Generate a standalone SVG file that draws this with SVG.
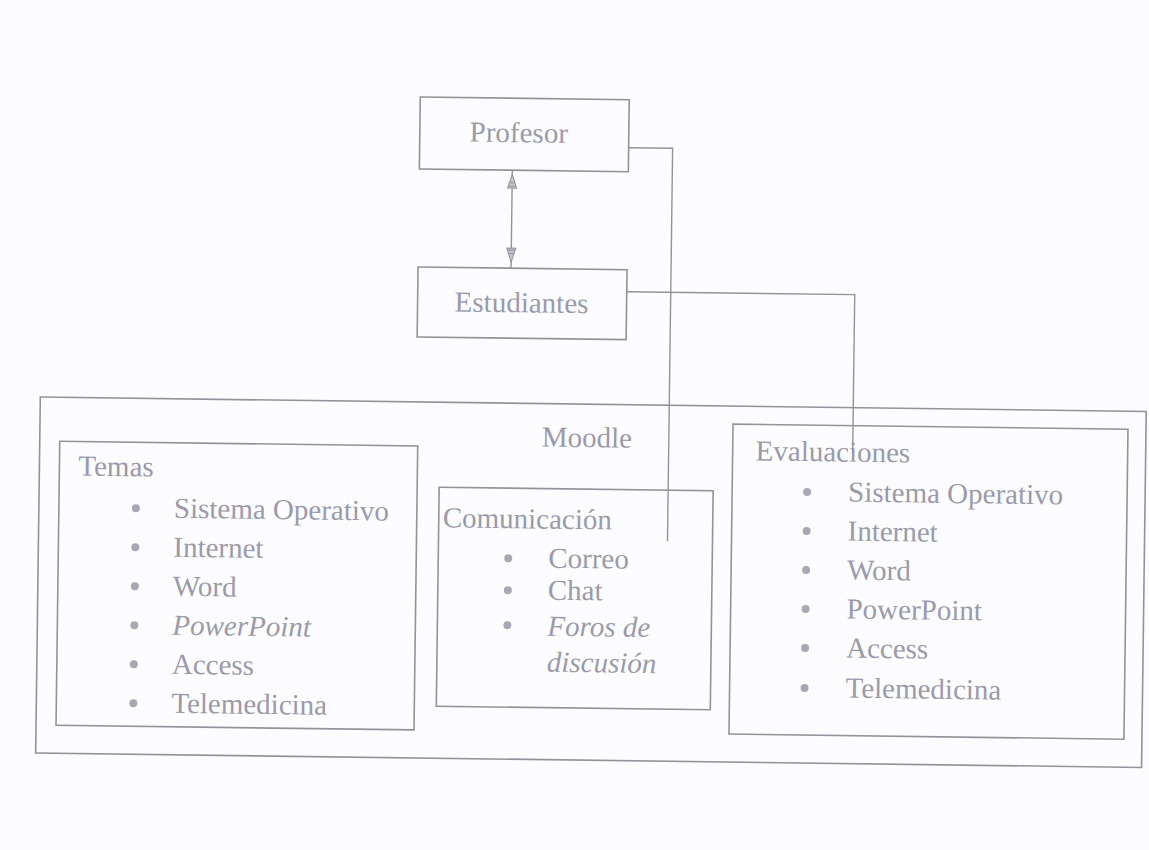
<svg xmlns="http://www.w3.org/2000/svg" width="1149" height="850" viewBox="0 0 1149 850">
<style>
  .box{fill:none;stroke:#92929c;stroke-width:1.6}
  .ln{fill:none;stroke:#92929c;stroke-width:1.4}
  .t{font-family:"Liberation Serif","Times New Roman",serif;font-size:29px;fill:#9a9aaa}
  .i{font-style:italic}
  .b{fill:#a8a8b4}
  .ah{fill:#c4c4ce;stroke:#92929c;stroke-width:1}
</style>
<rect width="1149" height="850" fill="#fcfcfe"/>
<g transform="rotate(0.75 574 425)">
  <g id="moodle">
    <rect class="box" x="40" y="404" width="1106" height="356"/>
    <text class="t" x="542" y="447">Moodle</text>
  </g>
  <g id="profesor">
    <rect class="box" x="416" y="99" width="209" height="72"/>
    <text class="t" x="515" y="143" text-anchor="middle">Profesor</text>
  </g>
  <g id="estudiantes">
    <rect class="box" x="416" y="269" width="209" height="70"/>
    <text class="t" x="520" y="313" text-anchor="middle">Estudiantes</text>
  </g>
  <g id="temas">
    <rect class="box" x="60" y="448" width="358" height="284"/>
    <text class="t" x="79" y="482">Temas</text>
    <circle class="b" cx="137" cy="514" r="4"/><text class="t" x="175" y="523">Sistema Operativo</text>
    <circle class="b" cx="137" cy="553" r="4"/><text class="t" x="175" y="562">Internet</text>
    <circle class="b" cx="137" cy="592" r="4"/><text class="t" x="175" y="601">Word</text>
    <circle class="b" cx="137" cy="631" r="4"/><text class="t i" x="175" y="640">PowerPoint</text>
    <circle class="b" cx="137" cy="670" r="4"/><text class="t" x="175" y="679">Access</text>
    <circle class="b" cx="137" cy="709" r="4"/><text class="t" x="175" y="718">Telemedicina</text>
  </g>
  <g id="comunicacion">
    <rect class="box" x="440" y="489" width="274" height="219"/>
    <text class="t" x="444" y="529">Comunicación</text>
    <circle class="b" cx="510" cy="559" r="4"/><text class="t" x="550" y="568">Correo</text>
    <circle class="b" cx="510" cy="591" r="4"/><text class="t" x="550" y="600">Chat</text>
    <circle class="b" cx="510" cy="626" r="4"/><text class="t i" x="550" y="636">Foros de</text>
    <text class="t i" x="550" y="672">discusión</text>
  </g>
  <g id="evaluaciones">
    <rect class="box" x="733" y="422" width="395" height="310"/>
    <text class="t" x="756" y="458">Evaluaciones</text>
    <circle class="b" cx="808" cy="489" r="4"/><text class="t" x="849" y="498">Sistema Operativo</text>
    <circle class="b" cx="808" cy="528" r="4"/><text class="t" x="849" y="537">Internet</text>
    <circle class="b" cx="808" cy="567" r="4"/><text class="t" x="849" y="576">Word</text>
    <circle class="b" cx="808" cy="606" r="4"/><text class="t" x="849" y="615">PowerPoint</text>
    <circle class="b" cx="808" cy="645" r="4"/><text class="t" x="849" y="654">Access</text>
    <circle class="b" cx="808" cy="685" r="4"/><text class="t" x="849" y="694">Telemedicina</text>
  </g>
  <g id="connectors">
    <line class="ln" x1="509" y1="171" x2="509" y2="269"/>
    <path class="ah" d="M509,175 L513.5,189 L504.5,189 Z M506,183.5 H512 M505.5,187 H512.5"/>
    <path class="ah" d="M509,263 L513.5,249 L504.5,249 Z M506,254.5 H512 M505.5,251 H512.5"/>
    <path class="ln" d="M625,147 H669 V540"/>
    <path class="ln" d="M625,291 H853 V450"/>
  </g>
</g>
</svg>
